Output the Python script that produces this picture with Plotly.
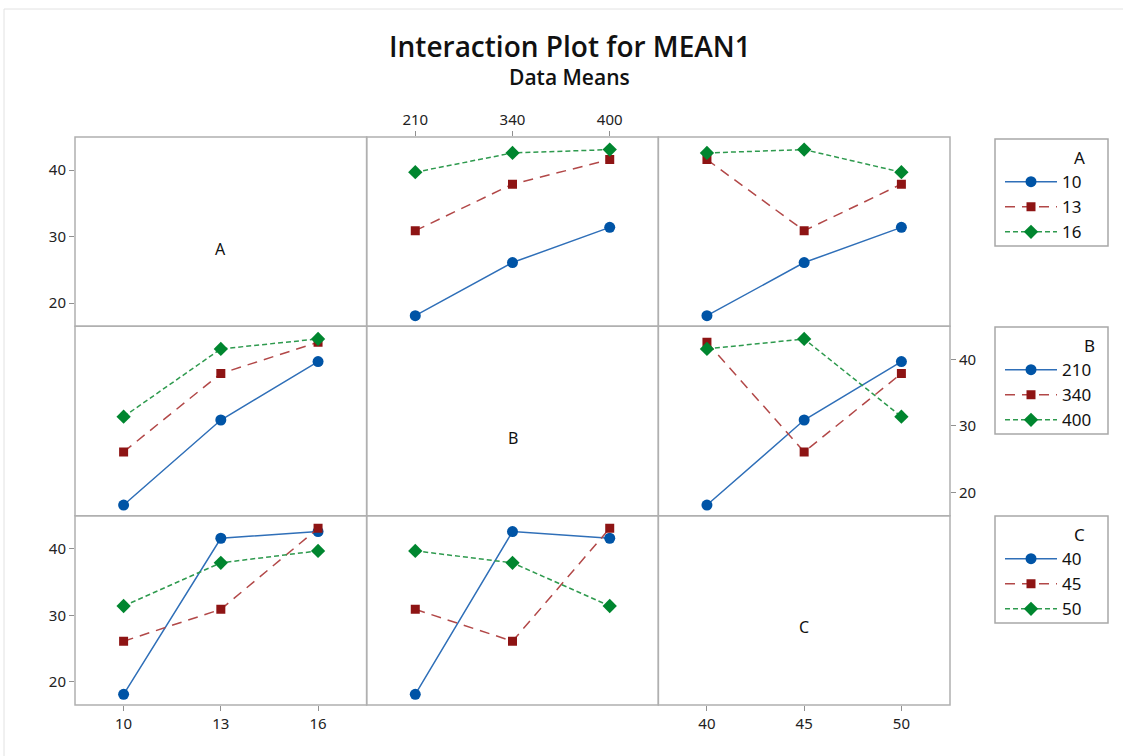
import pandas as pd
import plotly.graph_objects as go
from plotly.subplots import make_subplots

# ---- data (9-run design, response MEAN1) ----
A_run = [10, 10, 10, 13, 13, 13, 16, 16, 16]
B_run = [210, 340, 400, 210, 340, 400, 210, 340, 400]
C_run = [40, 45, 50, 45, 50, 40, 50, 40, 45]
MEAN1 = [18.1, 26.1, 31.4, 30.9, 37.9, 41.6, 39.7, 42.6, 43.1]

factor_names = ["A", "B", "C"]
A_levels = [10, 13, 16]
B_levels = [210, 340, 400]
C_levels = [40, 45, 50]
y_ticks = [20, 30, 40]

df = pd.DataFrame({"A": A_run, "B": B_run, "C": C_run, "MEAN1": MEAN1})
levels = {"A": A_levels, "B": B_levels, "C": C_levels}

colors = ["#0054A6", "#8E1414", "#00862F"]
line_colors = ["#2F6FB8", "#B24848", "#2E9A4E"]
dashes = ["solid", "10px,7px", "5px,3px"]
symbols = ["circle", "square", "diamond"]
msizes = [11, 9, 11]
legend_ids = {"A": "legend", "B": "legend2", "C": "legend3"}

FONT = "Noto Sans"
TITLE_FONT = "Open Sans"
W, H = 1123, 756
L, R, T, B = 75, 173, 137, 51
PW, PH = W - L - R, H - T - B


def px2x(px):
    return (px - L) / PW


def py2y(py):
    return (H - B - py) / PH


fig = make_subplots(rows=3, cols=3, horizontal_spacing=0, vertical_spacing=0)

for r, trace_f in enumerate(factor_names):          # row = line (trace) factor
    for c, x_f in enumerate(factor_names):          # col = x factor
        if r == c:
            # empty diagonal panel: placeholder so the axes are drawn
            fig.add_trace(go.Scatter(x=[None], y=[None], mode="markers",
                                     showlegend=False, hoverinfo="skip"),
                          row=r + 1, col=c + 1)
            continue
        means = df.groupby([trace_f, x_f])["MEAN1"].mean()
        first = c == min(i for i in range(3) if i != r)
        for k, lv in enumerate(levels[trace_f]):
            xs, ys = [], []
            for j, xv in enumerate(levels[x_f]):
                xs.append(j)
                ys.append(means.loc[(lv, xv)])
            fig.add_trace(
                go.Scatter(
                    x=xs, y=ys, mode="lines+markers", name=str(lv),
                    line=dict(color=line_colors[k], width=1.5, dash=dashes[k]),
                    marker=dict(color=colors[k], symbol=symbols[k], size=msizes[k],
                                line=dict(width=0)),
                    legend=legend_ids[trace_f], showlegend=first,
                    hoverinfo="skip",
                ),
                row=r + 1, col=c + 1,
            )

GRID = "#B0B0B0"
for r in range(3):
    for c in range(3):
        idx = r * 3 + c + 1
        xa = "xaxis" if idx == 1 else f"xaxis{idx}"
        ya = "yaxis" if idx == 1 else f"yaxis{idx}"
        xr = "x" if idx == 1 else f"x{idx}"
        yr = "y" if idx == 1 else f"y{idx}"
        x_f = factor_names[c]
        show_x = (r == 2 and c in (0, 2)) or (r == 0 and c == 1)
        show_y = (c == 0 and r in (0, 2)) or (c == 2 and r == 1)
        fig.layout[xa].update(
            range=[-0.5, 2.5], showgrid=False, zeroline=False, showline=False,
            tickvals=[0, 1, 2], ticktext=[str(v) for v in levels[x_f]],
            showticklabels=show_x, ticks="outside" if show_x else "",
            ticklen=5, tickcolor="#909090", side="top" if r == 0 else "bottom",
            tickfont=dict(family=FONT, size=15, color="#222222"),
        )
        fig.layout[ya].update(
            range=[16.5, 45], showgrid=False, zeroline=False, showline=False,
            tickvals=y_ticks, showticklabels=show_y, ticks="outside" if show_y else "",
            ticklen=5, tickcolor="#909090", side="right" if c == 2 else "left",
            tickfont=dict(family=FONT, size=15, color="#222222"),
        )
        # panel frame (shared edges coincide -> single line)
        fig.add_shape(type="rect", xref=f"{xr} domain", yref=f"{yr} domain",
                      x0=0, x1=1, y0=0, y1=1, layer="below",
                      line=dict(color=GRID, width=1.5))

# diagonal panel labels
for i, name in enumerate(factor_names):
    idx = i * 3 + i + 1
    xr = "x" if idx == 1 else f"x{idx}"
    yr = "y" if idx == 1 else f"y{idx}"
    fig.add_annotation(x=0.5, y=0.41, xref=f"{xr} domain", yref=f"{yr} domain",
                       text=name, showarrow=False, xanchor="center", yanchor="middle",
                       font=dict(family=FONT, size=16, color="#111111"))

legend_tops = [139, 327, 516]
LEG_LEFT, LEG_RIGHT, LEG_H = 995, 1108, 107
legend_layout = {}
for name, top in zip(factor_names, legend_tops):
    legend_layout[legend_ids[name]] = dict(
        x=px2x(LEG_LEFT + 5), xanchor="left", y=py2y(top + 3), yanchor="top",
        bgcolor="rgba(0,0,0,0)", borderwidth=0,
        font=dict(family=FONT, size=17, color="#111111"),
        itemwidth=52, tracegroupgap=0,
        title=dict(text=name, side="top right",
                   font=dict(family=FONT, size=17, color="#111111")),
    )
    # legend frame
    fig.add_shape(type="rect", xref="paper", yref="paper",
                  x0=px2x(LEG_LEFT), x1=px2x(LEG_RIGHT),
                  y0=py2y(top), y1=py2y(top + LEG_H),
                  line=dict(color="#A8A8A8", width=1.5))

# titles
fig.add_annotation(x=px2x(570), y=py2y(46), xref="paper", yref="paper",
                   xanchor="center", yanchor="middle",
                   text="Interaction Plot for MEAN1", showarrow=False,
                   font=dict(family=TITLE_FONT, size=28, color="#111111", weight=600))
fig.add_annotation(x=px2x(569), y=py2y(77), xref="paper", yref="paper",
                   xanchor="center", yanchor="middle",
                   text="Data Means", showarrow=False,
                   font=dict(family=TITLE_FONT, size=21, color="#111111", weight=600))

# faint outer frame
fig.add_shape(type="line", xref="paper", yref="paper",
              x0=px2x(4), x1=px2x(1123), y0=py2y(9), y1=py2y(9),
              line=dict(color="#E2E2E2", width=1))
fig.add_shape(type="line", xref="paper", yref="paper",
              x0=px2x(4), x1=px2x(4), y0=py2y(9), y1=py2y(756),
              line=dict(color="#E2E2E2", width=1))

fig.update_layout(
    width=W, height=H,
    margin=dict(l=L, r=R, t=T, b=B),
    paper_bgcolor="white", plot_bgcolor="white",
    font=dict(family=FONT),
    **legend_layout,
)

fig.write_html("out.html", config={"displayModeBar": False},
               post_script="document.body.style.margin='0px';")
